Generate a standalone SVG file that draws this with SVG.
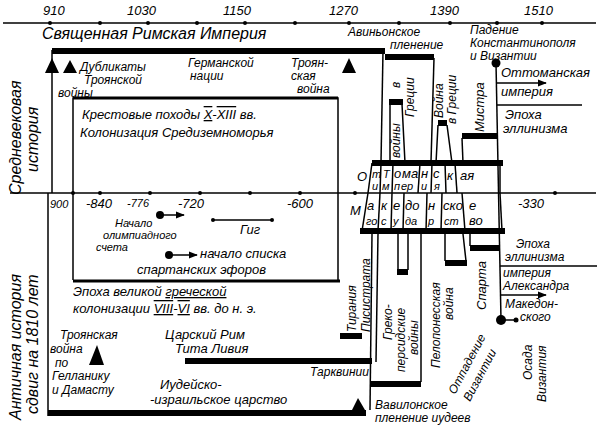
<svg xmlns="http://www.w3.org/2000/svg" width="600" height="428" viewBox="0 0 600 428">
<defs>
<marker id="ah" viewBox="0 0 10 10" refX="9" refY="5" markerWidth="6" markerHeight="6" orient="auto"><path d="M0,1 L10,5 L0,9 z" fill="#000"/></marker>
<style>
text{font-family:"Liberation Sans","DejaVu Sans",sans-serif;font-style:italic;fill:#000;font-size:13px}
.big{font-size:16px}
.sm{font-size:11px}
.c{font-size:12px}
.ln{stroke:#000;stroke-width:1.5;fill:none}
.th{stroke:#000;stroke-width:6;fill:none}
.dot{fill:#000}
</style>
</defs>
<rect width="600" height="428" fill="#fff"/>
<g id="axes">
<line class="ln" x1="3" y1="23" x2="596" y2="23"/>
<g class="dot"><circle cx="50" cy="23" r="2"/><circle cx="100" cy="23" r="2"/><circle cx="148" cy="23" r="2"/><circle cx="197" cy="23" r="2"/><circle cx="245" cy="23" r="2"/><circle cx="295" cy="23" r="2"/><circle cx="349" cy="23" r="2"/><circle cx="399" cy="23" r="2"/><circle cx="450" cy="23" r="2"/><circle cx="497" cy="23" r="2"/><circle cx="542" cy="23" r="2"/></g>
<text x="43" y="15">910</text><text x="127" y="15">1030</text><text x="223" y="15">1150</text><text x="329" y="15">1270</text><text x="430" y="15">1390</text><text x="524" y="15">1510</text>
<line class="ln" x1="10" y1="193" x2="596" y2="193"/>
<g class="dot"><circle cx="73" cy="193" r="2"/><circle cx="100" cy="193" r="2"/><circle cx="150" cy="193" r="2"/><circle cx="200" cy="193" r="2"/><circle cx="250" cy="193" r="2"/><circle cx="300" cy="193" r="2"/><circle cx="355" cy="193" r="2"/><circle cx="555" cy="193" r="2"/></g>
<text x="50" y="208" class="sm">900</text><text x="86" y="208">-840</text><text x="127" y="207" class="sm">-776</text><text x="178" y="208">-720</text><text x="287" y="208">-600</text><text x="518" y="208">-330</text>
</g>
<g id="frames">
<line class="th" x1="52" y1="51" x2="385" y2="51"/>
<line class="th" x1="385" y1="57" x2="434" y2="57"/>
<line class="ln" x1="52" y1="50" x2="52" y2="193"/>
<line class="ln" x1="48" y1="193" x2="48" y2="416"/>
<line class="ln" x1="383" y1="51" x2="381" y2="162"/>
<line class="ln" x1="434" y1="58" x2="431" y2="162"/>
<path class="ln" d="M73,280 V98 H338 V280" />
<line x1="73" y1="98" x2="338" y2="98" stroke="#000" stroke-width="3"/>
<line x1="73" y1="281" x2="340" y2="281" stroke="#000" stroke-width="3"/>
<line class="th" x1="48" y1="413" x2="366" y2="413"/>
<line class="th" x1="185" y1="361" x2="372" y2="361"/>
<line class="ln" x1="372" y1="234" x2="370" y2="410"/>
<line class="ln" x1="378" y1="234" x2="376" y2="362"/>
</g>
<g id="table">
<line class="th" x1="372" y1="163" x2="503" y2="163"/>
<line class="th" x1="360" y1="231" x2="505" y2="231"/>
<g class="ln"><line x1="372" y1="163" x2="368" y2="193"/><line x1="381" y1="163" x2="380" y2="193"/><line x1="393" y1="163" x2="392" y2="193"/><line x1="420" y1="163" x2="418" y2="193"/><line x1="432" y1="163" x2="431" y2="193"/><line x1="445" y1="163" x2="446" y2="193"/><line x1="455" y1="163" x2="457" y2="193"/><line x1="500" y1="163" x2="500" y2="193"/>
<line x1="368" y1="193" x2="362" y2="231"/><line x1="380" y1="193" x2="378" y2="231"/><line x1="392" y1="193" x2="391" y2="231"/><line x1="404" y1="193" x2="403" y2="231"/><line x1="427" y1="193" x2="426" y2="231"/><line x1="442" y1="193" x2="441" y2="231"/><line x1="462" y1="193" x2="465" y2="231"/><line x1="500" y1="193" x2="502" y2="231"/></g>
<text x="357" y="181">О</text><text x="372" y="178" class="sm">т</text><text x="372" y="190" class="sm">и</text><text x="383" y="178" class="sm">Т</text><text x="382" y="190" class="sm">м</text><text x="394" y="178">о</text><text x="394" y="190" class="sm">п</text><text x="402" y="178">ма</text><text x="401" y="190" class="sm">ер</text><text x="421" y="178">н</text><text x="421" y="190" class="sm">и</text><text x="433" y="178">с</text><text x="434" y="190" class="sm">я</text><text x="447" y="180">к</text><text x="460" y="180">ая</text>
<text x="350" y="215">М</text><text x="367" y="210">а</text><text x="366" y="225" class="sm">го</text><text x="381" y="210">к</text><text x="381" y="225" class="sm">с</text><text x="393" y="210">е</text><text x="393" y="225" class="sm">у</text><text x="405" y="210">до</text><text x="405" y="225" class="sm">да</text><text x="428" y="210">н</text><text x="428" y="225" class="sm">р</text><text x="443" y="210">ско</text><text x="444" y="225" class="sm">ст</text><text x="469" y="210">е</text><text x="469" y="225">во</text>
</g>
<g id="upper-right">
<line class="th" x1="389" y1="102" x2="403" y2="102"/>
<path class="ln" d="M390,104 V163 M402,104 L405,163"/>
<line class="th" x1="438" y1="123" x2="447" y2="123"/>
<path class="ln" d="M438,125 L436,163 M447,125 L452,163"/>
<line class="th" x1="462" y1="136" x2="497" y2="136"/>
<path class="ln" d="M462,138 L463,163"/>
<line class="ln" x1="496" y1="63" x2="501" y2="320"/>
<circle class="dot" cx="496" cy="63" r="4.5"/>
<line class="ln" x1="497" y1="83" x2="546" y2="83" marker-end="url(#ah)"/>
<line class="ln" x1="497" y1="105" x2="582" y2="105"/>
<text x="348" y="36" class="c">Авиньонское</text><text x="390" y="49" class="c">пленение</text>
<text x="470" y="34" class="c">Падение</text><text x="470" y="47" class="c">Константинополя</text><text x="470" y="60" class="c">и Византии</text>
<text x="501" y="77">Оттоманская</text><text x="501" y="96">империя</text>
<text x="505" y="119">Эпоха</text><text x="503" y="133">эллинизма</text>
<text transform="translate(400,88) rotate(-90)" class="c">в</text>
<text transform="translate(414,117) rotate(-90)" class="c">Греции</text>
<text transform="translate(400,158) rotate(-90)" class="c">войны</text>
<text transform="translate(443,118) rotate(-90)" class="c">Война</text>
<text transform="translate(456,124) rotate(-90)" class="c">в Греции</text>
<text transform="translate(484,132) rotate(-90)">Мистра</text>
</g>
<g id="lower-right">
<line class="th" x1="340" y1="336" x2="362" y2="336"/>
<line class="th" x1="397" y1="272" x2="408" y2="272"/>
<path class="ln" d="M398,234 V270 M408,234 V270"/>
<line class="th" x1="445" y1="263" x2="467" y2="263"/>
<path class="ln" d="M445,234 V261 M463,234 L466,261"/>
<line class="th" x1="470" y1="248" x2="500" y2="248"/>
<path class="ln" d="M470,234 V246"/>
<line class="th" x1="370" y1="384" x2="421" y2="384"/>
<path class="ln" d="M421,234 V382"/>
<circle class="dot" cx="501" cy="320" r="5"/>
<line class="ln" x1="501" y1="320" x2="515" y2="320"/><circle class="dot" cx="516" cy="320" r="2.5"/>
<line class="ln" x1="500" y1="266" x2="597" y2="266"/>
<line class="ln" x1="500" y1="295" x2="546" y2="295" marker-end="url(#ah)"/>
<text x="516" y="248" class="c">Эпоха</text><text x="505" y="261" class="c">эллинизма</text>
<text x="503" y="277" class="c">империя</text><text x="503" y="290" class="c">Александра</text>
<text x="505" y="308" class="c">Македон-</text><text x="520" y="321" class="c">ского</text>
<text transform="translate(356,332) rotate(-90)" class="c">Тирания</text>
<text transform="translate(370,332) rotate(-90)" class="c">Писистрата</text>
<text transform="translate(392,340) rotate(-90)" class="c">Греко-</text>
<text transform="translate(405,372) rotate(-90)" class="c">персидские</text>
<text transform="translate(418,355) rotate(-90)" class="c">войны</text>
<text transform="translate(440,368) rotate(-90)" class="c">Пелопонесская</text>
<text transform="translate(453,320) rotate(-90)" class="c">война</text>
<text transform="translate(486,310) rotate(-90)">Спарта</text>
<text transform="translate(455,395) rotate(-62)" class="c">Отпадение</text>
<text transform="translate(470,402) rotate(-62)" class="c">Византии</text>
<text transform="translate(532,380) rotate(-90)" class="c">Осада</text>
<text transform="translate(546,402) rotate(-90)" class="c">Византия</text>
<text x="310" y="376" class="c">Тарквинии</text>
<text x="375" y="409" class="c">Вавилонское</text><text x="375" y="422" class="c">пленение иудеев</text>
</g>
<g id="upper-left">
<path class="dot" d="M52,58 L45,73 L59,73 z"/>
<path class="dot" d="M70,60 L63,73 L77,73 z"/>
<path class="dot" d="M349,58 L342,73 L356,73 z"/>
<text class="big" x="42" y="39">Священная Римская Империя</text>
<text x="80" y="71" class="c">Дубликаты</text><text x="84" y="84" class="c">Троянской</text><text x="58" y="97" class="c">войны</text>
<text x="188" y="67" class="c">Германской</text><text x="190" y="80" class="c">нации</text>
<text x="291" y="67" class="c">Троян-</text><text x="291" y="80" class="c">ская</text><text x="297" y="93" class="c">война</text>
<text x="82" y="119">Крестовые походы <tspan text-decoration="overline underline">X</tspan>-<tspan text-decoration="overline">XIII</tspan> вв.</text>
<text x="80" y="137">Колонизация Средиземноморья</text>
<text class="big" transform="translate(21,195) rotate(-90)">Средневековая</text>
<text class="big" transform="translate(38,172) rotate(-90)">история</text>
</g>
<g id="lower-left">
<circle class="dot" cx="160" cy="215" r="4"/>
<line class="ln" x1="163" y1="215" x2="184" y2="215" marker-end="url(#ah)"/>
<text x="115" y="227" class="sm">Начало</text><text x="103" y="239" class="sm">олимпиадного</text><text x="96" y="251" class="sm">счета</text>
<line class="ln" x1="213" y1="220" x2="272" y2="220"/><circle class="dot" cx="213" cy="220" r="2"/><circle class="dot" cx="272" cy="220" r="2"/>
<text x="240" y="234">Гиг</text>
<circle class="dot" cx="169" cy="255" r="4"/>
<line class="ln" x1="172" y1="255" x2="197" y2="255" marker-end="url(#ah)"/>
<text x="200" y="258">начало списка</text><text x="137" y="274">спартанских эфоров</text>
<text x="73" y="296">Эпоха великой <tspan text-decoration="underline">греческой</tspan></text>
<text x="73" y="313">колонизации <tspan text-decoration="underline overline">VIII</tspan>-<tspan text-decoration="underline overline">VI</tspan> вв. до н. э.</text>
<path class="dot" d="M97,345 L89,365 L104,365 z"/>
<text x="60" y="339" class="c">Троянская</text><text x="50" y="353" class="c">война</text><text x="55" y="367" class="c">по</text><text x="52" y="380" class="c">Гелланику</text><text x="52" y="394" class="c">и Дамасту</text>
<text x="165" y="339">Царский Рим</text><text x="175" y="353">Тита Ливия</text>
<text x="160" y="389">Иудейско-</text><text x="150" y="404">-израильское царство</text>
<path class="dot" d="M358,398 L352,410 L365,410 z"/>
<text class="big" transform="translate(21,420) rotate(-90)">Античная история</text>
<text class="big" transform="translate(38,414) rotate(-90)">сдвиг на 1810 лет</text>
</g>
</svg>
